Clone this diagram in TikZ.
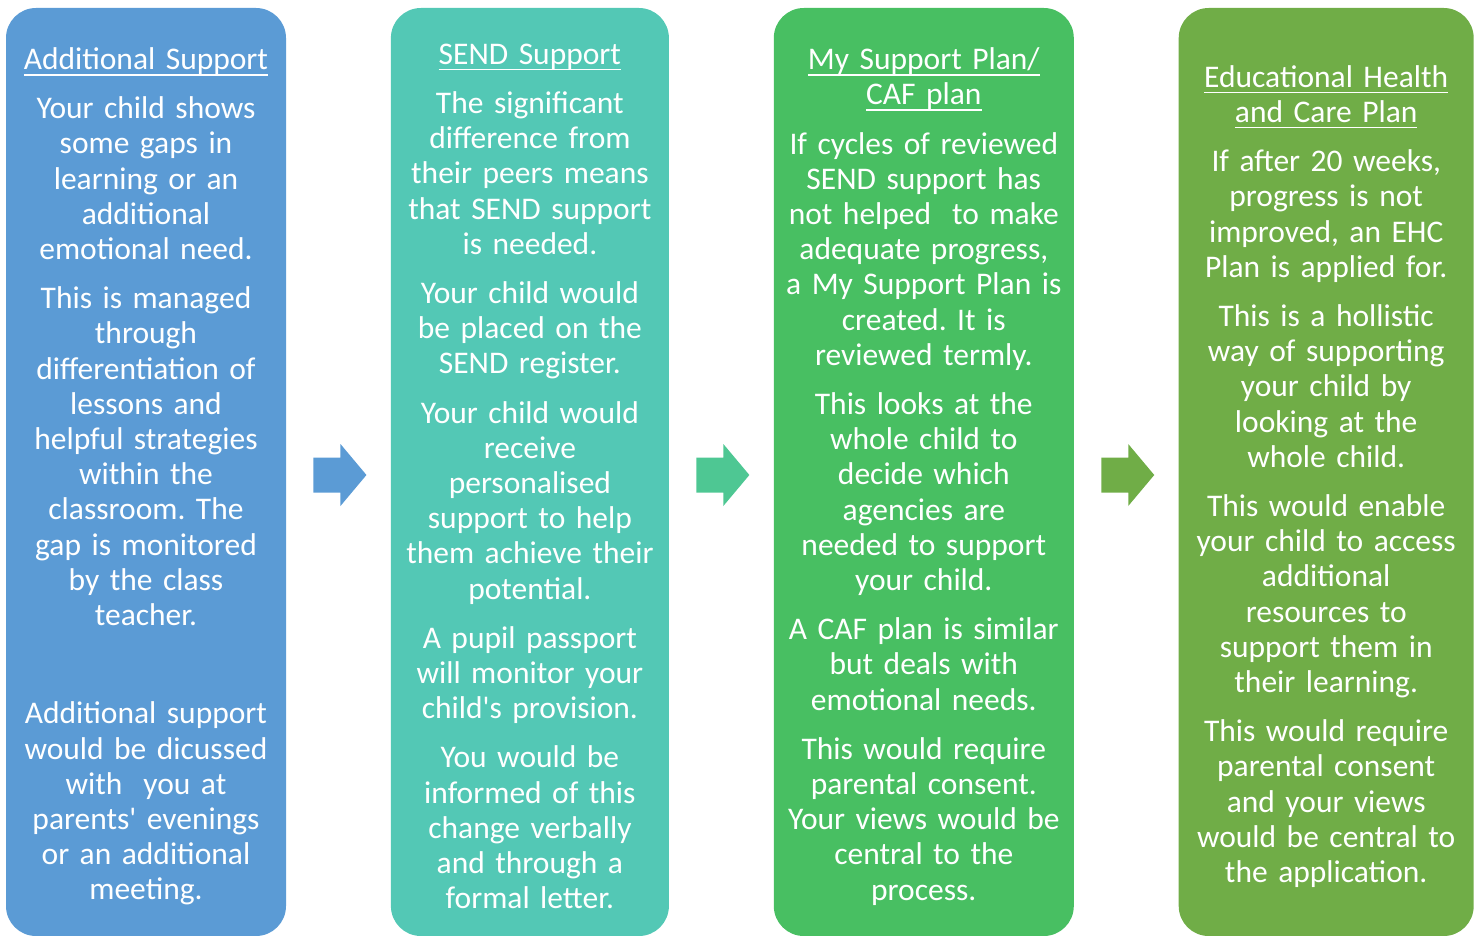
\documentclass[tikz,border=0pt]{standalone}
\usepackage{fontspec}
\setmainfont{Carlito}[Ligatures=TeXOff]
\usepackage{xcolor}
\usepackage{tikz}
\usetikzlibrary{chains,positioning,calc}

\definecolor{addlblue}{HTML}{5B9BD5}
\definecolor{sendteal}{HTML}{53C8B5}
\definecolor{plangreen}{HTML}{48BF62}
\definecolor{ehcgreen}{HTML}{70AD47}
\definecolor{tealarrow}{HTML}{4EC793}

%% underlined panel heading
\newcommand{\ulhead}[1]{\leavevmode\setbox0\hbox{#1}\rlap{\rule[-6pt]{\wd0}{1.6pt}}\box0}

\begin{document}
\frenchspacing
\begin{tikzpicture}[x=1pt,y=-1pt]
        \useasboundingbox (0,0) rectangle (1478,936);

        \edef\sizepanel{928pt}
        \tikzstyle{panel}=[rounded corners=30pt,minimum height=\sizepanel,inner sep=0pt]
        \tikzstyle{paneltext}=[inner sep=0pt,yshift=-4.5pt,text=white,align=center,
            font=\fontsize{31.5}{35.2}\selectfont\frenchspacing]

        %% Draw the four stages
        \begin{scope}[start chain=1 going right,node distance=104.5pt]
            \node [on chain=1,panel,fill=addlblue,minimum width=280pt] (addl) at (146,472) {};
            \node [on chain=1,panel,fill=sendteal,minimum width=278pt] (send) {};
            \node [on chain=1,panel,fill=plangreen,minimum width=300pt] (plan) {};
            \node [on chain=1,panel,fill=ehcgreen,minimum width=295pt] (ehcp) {};
        \end{scope}

        %% texts of the stages
        \node [paneltext,text width=272pt] (addltxt) at (addl.center)
            {\ulhead{Additional Support}\\[14pt]
            Your child shows\\ some gaps in\\ learning or an\\ additional\\ emotional need.\\[14pt]
            This is managed\\ through\\ differentiation of\\ lessons and\\ helpful strategies\\
            within the\\ classroom. The\\ gap is monitored\\ by the class\\ teacher.\\[14pt]
            \mbox{}\\[14pt]
            Additional support\\ would be dicussed\\ with~ you at\\ parents' evenings\\
            or an additional\\ meeting.};
        \node [paneltext,text width=270pt] (sendtxt) at (send.center)
            {\ulhead{SEND Support}\\[14pt]
            The significant\\ difference from\\ their peers means\\ that SEND support\\ is needed.\\[14pt]
            Your child would\\ be placed on the\\ SEND register.\\[14pt]
            Your child would\\ receive\\ personalised\\ support to help\\ them achieve their\\ potential.\\[14pt]
            A pupil passport\\ will monitor your\\ child's provision.\\[14pt]
            You would be\\ informed of this\\ change verbally\\ and through a\\ formal letter.};
        \node [paneltext,text width=292pt] (plantxt) at (plan.center)
            {\ulhead{My Support Plan/}\\ \ulhead{CAF plan}\\[14pt]
            If cycles of reviewed\\ SEND support has\\ not helped~ to make\\ adequate progress,\\
            a My Support Plan is\\ created. It is\\ reviewed termly.\\[14pt]
            This looks at the\\ whole child to\\ decide which\\ agencies are\\ needed to support\\ your child.\\[14pt]
            A CAF plan is similar\\ but deals with\\ emotional needs.\\[14pt]
            This would require\\ parental consent.\\ Your views would be\\ central to the\\ process.};
        \node [paneltext,text width=287pt] (ehcptxt) at (ehcp.center)
            {\ulhead{Educational Health}\\ \ulhead{and Care Plan}\\[14pt]
            If after 20 weeks,\\ progress is not\\ improved, an EHC\\ Plan is applied for.\\[14pt]
            This is a hollistic\\ way of supporting\\ your child by\\ looking at the\\ whole child.\\[14pt]
            This would enable\\ your child to access\\ additional\\ resources to\\ support them in\\ their learning.\\[14pt]
            This would require\\ parental consent\\ and your views\\ would be central to\\ the application.};

        %% block arrows between the stages
        \foreach \from/\to/\col in {addl/send/addlblue, send/plan/tealarrow, plan/ehcp/ehcgreen}
            \fill [\col] ($(\from.east)!0.5!(\to.west)$) ++(-25,-14.5) -- ++(27,0) -- ++(0,-13.5)
                -- ++(26,31) -- ++(-26,31) -- ++(0,-13.5) -- ++(-27,0) -- cycle;

    \end{tikzpicture}
\end{document}
